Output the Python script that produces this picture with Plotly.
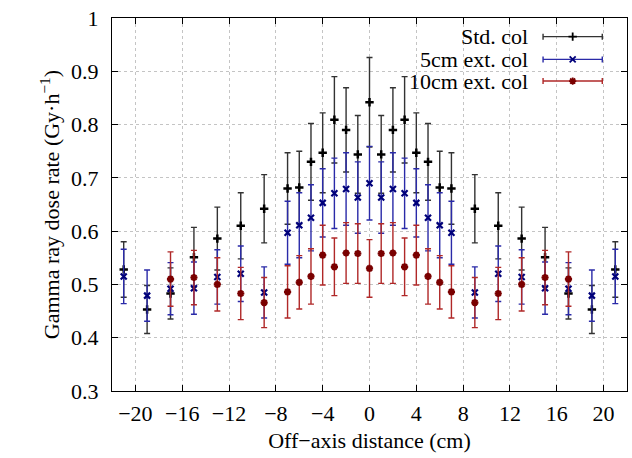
import plotly.graph_objects as go

# ---------------- data ----------------
x_all = [-21, -19, -17, -15, -13, -11, -9, -7, -6, -5, -4, -3, -2, -1, 0,
         1, 2, 3, 4, 5, 6, 7, 9, 11, 13, 15, 17, 19, 21]
std_col = [0.528, 0.453, 0.483, 0.551, 0.586, 0.610, 0.642, 0.680, 0.682, 0.730,
           0.747, 0.809, 0.790, 0.744, 0.842, 0.744, 0.790, 0.809, 0.747, 0.730,
           0.682, 0.680, 0.642, 0.610, 0.586, 0.551, 0.483, 0.453, 0.528]
std_err = [0.052, 0.045, 0.048, 0.056, 0.059, 0.062, 0.064, 0.067, 0.068, 0.072,
           0.075, 0.081, 0.079, 0.073, 0.084, 0.073, 0.079, 0.081, 0.075, 0.072,
           0.068, 0.067, 0.064, 0.062, 0.059, 0.056, 0.048, 0.045, 0.052]
ext5_col = [0.515, 0.479, 0.492, 0.493, 0.514, 0.520, 0.485, 0.597, 0.611, 0.625,
            0.653, 0.671, 0.679, 0.663, 0.690, 0.663, 0.679, 0.671, 0.653, 0.625,
            0.611, 0.597, 0.485, 0.520, 0.514, 0.493, 0.492, 0.479, 0.515]
ext5_err = [0.051, 0.048, 0.049, 0.049, 0.051, 0.052, 0.048, 0.059, 0.061, 0.062,
            0.064, 0.066, 0.068, 0.067, 0.069, 0.067, 0.068, 0.066, 0.064, 0.062,
            0.061, 0.059, 0.048, 0.052, 0.051, 0.049, 0.049, 0.048, 0.051]
x_10 = [-17, -15, -13, -11, -9, -7, -6, -5, -4, -3, -2, -1, 0,
        1, 2, 3, 4, 5, 6, 7, 9, 11, 13, 15, 17]
ext10_col = [0.510, 0.513, 0.500, 0.483, 0.466, 0.486, 0.504, 0.515, 0.555, 0.533,
             0.559, 0.558, 0.530, 0.558, 0.559, 0.533, 0.555, 0.515, 0.504, 0.486,
             0.466, 0.483, 0.500, 0.513, 0.510]
ext10_err = [0.051, 0.051, 0.050, 0.049, 0.047, 0.049, 0.050, 0.052, 0.056, 0.054,
             0.057, 0.056, 0.054, 0.056, 0.057, 0.054, 0.056, 0.052, 0.050, 0.049,
             0.047, 0.049, 0.050, 0.051, 0.051]

names = ["Std. col", "5cm ext. col", "10cm ext. col"]
x_ticks = [-20, -16, -12, -8, -4, 0, 4, 8, 12, 16, 20]
y_ticks = [0.3, 0.4, 0.5, 0.6, 0.7, 0.8, 0.9, 1.0]
y_ticklabels = ["0.3", "0.4", "0.5", "0.6", "0.7", "0.8", "0.9", "1"]

# ---------------- style ----------------
FONT = "Liberation Serif"
FS = 22
styles = [
    dict(mcol="#000000", ecol="#333333", symbol="cross-thin", size=6, lw=2.5),
    dict(mcol="#00007a", ecol="#2a2aa8", symbol="x-thin", size=6, lw=2.2),
    dict(mcol="#7a0000", ecol="#b02828", symbol="asterisk", size=6, lw=2.2),
]

fig = go.Figure()
series = [(x_all, std_col, std_err), (x_all, ext5_col, ext5_err), (x_10, ext10_col, ext10_err)]
for (xs, ys, es), st, nm in zip(series, styles, names):
    fig.add_trace(go.Scatter(
        x=xs, y=ys, mode="markers", name=nm, showlegend=False,
        marker=dict(symbol=st["symbol"], size=st["size"], color=st["mcol"],
                    line=dict(color=st["mcol"], width=st["lw"])),
        error_y=dict(type="data", array=es, visible=True, color=st["ecol"],
                     thickness=1.4, width=3),
    ))

# ---- custom key (gnuplot style: text right, sample on the right) ----
key_y = [0.950, 0.889, 0.831]
for ky, st, nm in zip(key_y, styles, names):
    fig.add_annotation(xref="paper", yref="paper", x=0.812, y=ky, text=nm,
                       showarrow=False, xanchor="right", yanchor="middle",
                       font=dict(family=FONT, size=FS, color="black"))
    fig.add_trace(go.Scatter(
        x=[0.8945], y=[ky], xaxis="x2", yaxis="y2", mode="markers",
        showlegend=False, hoverinfo="skip",
        marker=dict(symbol=st["symbol"], size=st["size"], color=st["mcol"],
                    line=dict(color=st["mcol"], width=1.8)),
        error_x=dict(type="data", array=[0.0575], visible=True, color=st["ecol"],
                     thickness=1.4, width=3),
    ))

axis_common = dict(
    showline=True, linecolor="black", linewidth=1.3, mirror="allticks",
    ticks="inside", ticklen=6, tickcolor="black", tickwidth=1,
    showgrid=True, gridcolor="#c4c4c4", griddash="dot", gridwidth=1,
    zeroline=False,
    tickfont=dict(family=FONT, size=FS, color="black"),
)

fig.update_layout(
    width=632, height=458,
    margin=dict(l=112, r=5, t=18, b=67),
    paper_bgcolor="white", plot_bgcolor="white",
    font=dict(family=FONT, size=FS, color="black"),
    xaxis=dict(range=[-22, 22], tickvals=x_ticks, ticklabelstandoff=2,
               title=dict(text="Off\u2212axis distance (cm)", standoff=8,
                          font=dict(family=FONT, size=FS)),
               **axis_common),
    yaxis=dict(range=[0.3, 1.0], tickvals=y_ticks, ticktext=y_ticklabels,
               ticklabelstandoff=8,
               title=dict(text="Gamma ray dose rate (Gy\u00b7h<sup>\u22121</sup>)",
                          standoff=5, font=dict(family=FONT, size=FS)),
               **axis_common),
    xaxis2=dict(range=[0, 1], overlaying="x", visible=False, fixedrange=True),
    yaxis2=dict(range=[0, 1], overlaying="y", visible=False, fixedrange=True),
)

fig.write_html("out.html")
